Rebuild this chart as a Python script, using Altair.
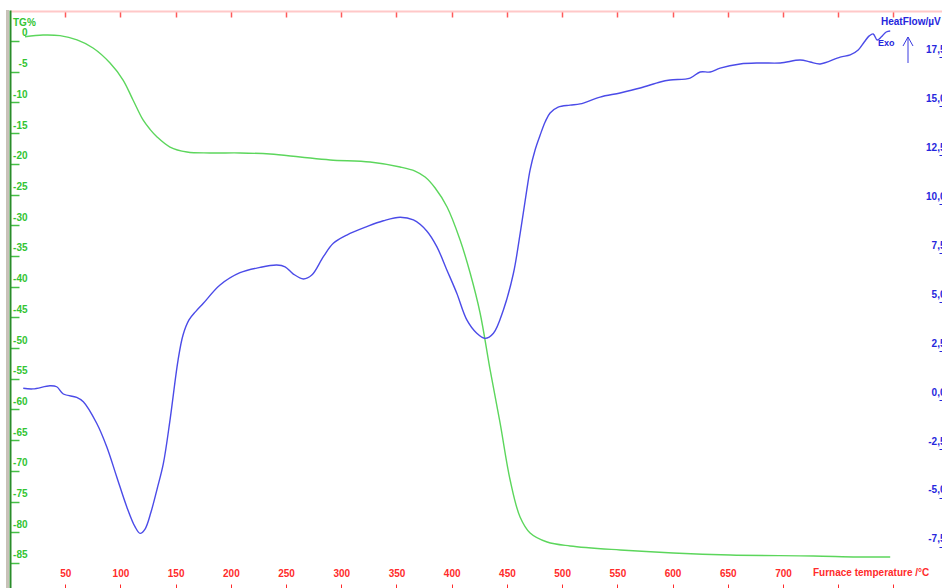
import altair as alt
import pandas as pd

# ---- data ----
tg_temp = [13.6, 29.9, 45.3, 60.7, 75.2, 90.6, 102.4, 111.4, 120.5, 126.8, 133.2, 144.9, 160.3,
           181.2, 208.3, 235.5, 262.7, 289.9, 326.1, 353.3, 366.8, 375.9, 385.0, 395.8, 407.6,
           416.7, 425.7, 434.8, 443.8, 452.9, 461.9, 471.0, 486.4, 507.2, 552.5, 600.5,
           652.2, 727.4, 767.2, 797.1]
tg_val = [-0.28, 0.0, -0.11, -0.81, -2.12, -4.56, -7.33, -10.58, -13.84, -15.36, -16.61, -18.24,
          -19.05, -19.21, -19.21, -19.38, -19.86, -20.35, -20.68, -21.49, -22.15, -23.13,
          -24.92, -28.01, -33.38, -38.76, -45.27, -54.55, -63.18, -72.46, -78.49, -81.09,
          -82.56, -83.21, -83.86, -84.35, -84.68, -84.84, -85.0, -85.0]

hf_temp = [12.0, 20.8, 36.2, 42.3, 48.3, 60.4, 66.4, 78.5, 87.6, 96.6, 105.7, 113.2, 117.8,
           122.3, 127.7, 133.2, 138.9, 144.9, 152.2, 156.7, 162.1, 168.5, 175.1, 190.2, 208.3,
           226.4, 241.6, 249.1, 256.6, 265.7, 273.3, 283.8, 292.8, 305.0, 323.1, 338.1,
           353.3, 365.3, 377.4, 386.5, 395.6, 404.6, 413.7, 422.7, 430.3, 437.8, 446.8,
           455.9, 462.0, 468.0, 471.0, 475.5, 480.1, 484.6, 489.1, 496.4, 507.2, 516.3,
           534.4, 552.5, 570.7, 588.8, 597.8, 615.9, 625.0, 634.1, 643.1, 661.2, 679.3,
           697.5, 715.6, 724.6, 733.7, 751.8, 760.9, 768.1, 773.6, 778.1, 781.7, 785.3,
           788.9, 793.5, 797.1]
hf_val = [0.29, 0.26, 0.42, 0.37, 0.0, -0.17, -0.39, -1.49, -2.69, -4.22, -5.75, -6.77, -7.11,
          -6.89, -6.02, -4.85, -3.54, -1.33, 1.73, 3.01, 3.78, 4.23, 4.63, 5.56, 6.19, 6.46,
          6.58, 6.49, 6.12, 5.87, 6.07, 7.01, 7.69, 8.11, 8.54, 8.84, 9.02, 8.88, 8.32, 7.52,
          6.33, 5.14, 3.78, 3.10, 2.84, 3.10, 4.29, 6.16, 8.20, 10.41, 11.43, 12.45, 13.21,
          13.88, 14.34, 14.64, 14.74, 14.80, 15.15, 15.36, 15.61, 15.92, 16.02, 16.12, 16.43,
          16.43, 16.63, 16.84, 16.89, 16.89, 17.04, 16.94, 16.84, 17.19, 17.30, 17.55, 17.96,
          18.27, 18.37, 18.06, 18.21, 18.47, 18.52]

x_ticks = [50, 100, 150, 200, 250, 300, 350, 400, 450, 500, 550, 600, 650, 700, 750, 800]
tg_ticks = [0, -5, -10, -15, -20, -25, -30, -35, -40, -45, -50, -55, -60, -65, -70, -75, -80, -85]
hf_ticks = [-7.5, -5.0, -2.5, 0.0, 2.5, 5.0, 7.5, 10.0, 12.5, 15.0, 17.5]

tg_df = pd.DataFrame({"T": tg_temp, "TG": tg_val})
hf_df = pd.DataFrame({"T": hf_temp, "HF": hf_val})
one = pd.DataFrame({"a": [0]})

# ---- styling ----
W, H = 932, 578
FONT = "Liberation Sans"
RED = "#ff2b2b"
GREEN_T = "#33c433"
BLUE_T = "#2626dd"

x_scale = alt.Scale(domain=[0, 844], nice=False, zero=False)
tg_scale = alt.Scale(domain=[-90.05, 4.07], nice=False, zero=False)
hf_scale = alt.Scale(domain=[-9.898, 19.592], nice=False, zero=False)

grey = alt.Chart(one).mark_rule(color="#c8c2b8", strokeWidth=3).encode(
    x=alt.value(-2.5), y=alt.value(0), y2=alt.value(H)
)

tg = alt.Chart(tg_df).mark_line(color="#5cd65c", strokeWidth=1.4, interpolate="catmull-rom").encode(
    x=alt.X("T:Q", scale=x_scale, axis=alt.Axis(
        orient="bottom", offset=-4, values=x_ticks, tickSize=4, tickColor=RED, tickWidth=1,
        domain=False, grid=False, labelColor=RED, labelFont=FONT, labelFontWeight="bold",
        labelFontSize=10, labelPadding=-15, labelBaseline="middle", labelFlush=False,
        labelOverlap=False, labelExpr="datum.value > 700 ? '' : '' + datum.value", title=None)),
    y=alt.Y("TG:Q", scale=tg_scale, axis=alt.Axis(
        orient="right", offset=-W, values=tg_ticks, tickSize=9, tickColor="#45c045",
        tickWidth=1.5, tickOffset=6, labelOffset=-8, domainColor="#2a8c2a", domainWidth=2,
        grid=False, labelAlign="right", labelBaseline="middle", labelPadding=8,
        labelColor=GREEN_T, labelFont=FONT, labelFontWeight="bold", labelFontSize=10,
        labelOverlap=False, labelFlush=False, labelExpr="'' + datum.value", title=None)),
)

hf = alt.Chart(hf_df).mark_line(color="#4b4be8", strokeWidth=1.4, interpolate="catmull-rom").encode(
    x=alt.X("T:Q", scale=x_scale, axis=alt.Axis(
        orient="bottom", offset=-(H - 1), values=x_ticks, tickSize=6, tickColor="#ff5a5a",
        tickWidth=1.5, domainColor="#ffc8c8", domainWidth=2, labels=False, grid=False,
        title=None)),
    y=alt.Y("HF:Q", scale=hf_scale, axis=alt.Axis(
        orient="left", offset=-935, values=hf_ticks, tickSize=6, tickColor=BLUE_T,
        tickWidth=1, tickOffset=6, labelOffset=-8, domain=False, grid=False,
        labelAlign="right", labelBaseline="middle", labelPadding=-6, labelColor=BLUE_T,
        labelFont=FONT, labelFontWeight="bold", labelFontSize=10, labelOverlap=False,
        labelFlush=False,
        labelExpr="(datum.value < 0 ? '-' : '') + replace(format(abs(datum.value), '.1f'), '.', ',')",
        title=None)),
)


def label(text, x, y, color, size=10):
    return alt.Chart(one).mark_text(
        text=text, color=color, font=FONT, fontWeight="bold", fontSize=size,
        align="left", baseline="middle"
    ).encode(x=alt.value(x), y=alt.value(y))


def seg(x1, y1, x2, y2):
    return alt.Chart(one).mark_rule(color="#3a3ae0", strokeWidth=1).encode(
        x=alt.value(x1), y=alt.value(y1), x2=alt.value(x2), y2=alt.value(y2)
    )


chart = alt.layer(
    grey, tg, hf,
    label("TG%", 3, 13, GREEN_T),
    label("HeatFlow/µV", 871, 12, BLUE_T),
    label("Exo", 868, 33, BLUE_T, 9),
    label("Furnace temperature /°C", 803, 563, RED),
    seg(898, 27, 898, 53), seg(898, 27, 893, 36), seg(898, 27, 903, 36),
).resolve_scale(y="independent").resolve_axis(x="independent", y="independent").properties(
    width=W, height=H,
    autosize=alt.AutoSizeParams(type="none"),
    padding={"left": 10, "top": 10, "right": 0, "bottom": 0},
    background="white",
).configure_view(strokeWidth=0)

chart.save("out.html", embed_options={"renderer": "svg", "actions": False})
